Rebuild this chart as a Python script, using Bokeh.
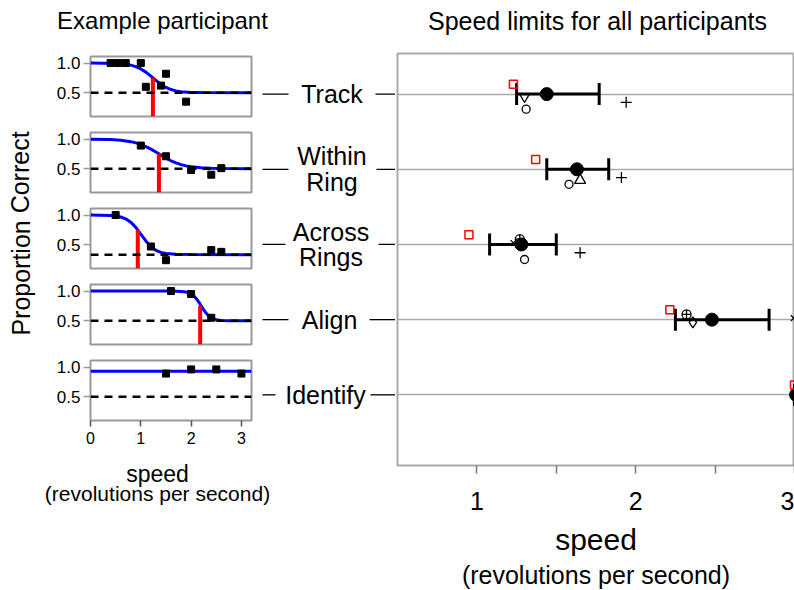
from bokeh.plotting import figure
from bokeh.layouts import row, column
from bokeh.models import (Range1d, FixedTicker, Span, Title, Whisker, TeeHead,
                          ColumnDataSource, Grid, PrintfTickFormatter)
from bokeh.embed import file_html
from bokeh.resources import INLINE
from bokeh.core.properties import value

FONT = "Liberation Sans"

# ---------------- data ----------------
conditions = ["Track", "Within Ring", "Across Rings", "Align", "Identify"]
condition_labels = ["Track", "Within\nRing", "Across\nRings", "Align", "Identify"]
rows = [1, 2, 3, 4, 5]

# example participant: measured proportion correct per speed
trial_speed = [
    [0.4, 0.55, 0.7, 1.0, 1.1, 1.4, 1.5, 1.9],
    [1.0, 1.5, 2.0, 2.4, 2.6],
    [0.5, 1.2, 1.5, 2.4, 2.6],
    [1.6, 2.0, 2.4],
    [1.5, 2.0, 2.5, 3.0],
]
trial_correct = [
    [1.0, 1.0, 1.0, 1.0, 0.6, 0.62, 0.82, 0.35],
    [0.89, 0.71, 0.48, 0.40, 0.51],
    [1.0, 0.47, 0.24, 0.41, 0.38],
    [1.0, 0.95, 0.55],
    [0.89, 0.96, 0.96, 0.89],
]
# fitted psychometric curves
fit_speed = [
    [0, 0.5, 0.7, 0.8, 0.9, 1.0, 1.1, 1.2, 1.3, 1.4, 1.5, 1.6, 1.7, 1.8, 2.0, 2.2, 3.2],
    [0, 0.4, 0.6, 0.8, 0.9, 1.0, 1.1, 1.2, 1.3, 1.4, 1.5, 1.6, 1.7, 1.8, 1.9, 2.0, 2.2, 2.4, 2.7, 3.2],
    [0, 0.4, 0.6, 0.7, 0.8, 0.9, 1.0, 1.1, 1.2, 1.3, 1.4, 1.5, 1.7, 2.0, 3.2],
    [0, 1.6, 1.8, 1.9, 2.0, 2.05, 2.1, 2.15, 2.2, 2.25, 2.3, 2.35, 2.4, 2.5, 2.6, 2.8, 3.2],
    [0, 3.2],
]
fit_correct = [
    [1.0, 0.994, 0.98, 0.965, 0.94, 0.90, 0.847, 0.78, 0.707, 0.64, 0.589, 0.554, 0.531, 0.518, 0.506, 0.502, 0.5],
    [0.998, 0.991, 0.98, 0.956, 0.936, 0.91, 0.873, 0.83, 0.781, 0.729, 0.679, 0.634, 0.598, 0.569, 0.548, 0.532, 0.515, 0.507, 0.502, 0.5],
    [1.0, 0.992, 0.967, 0.936, 0.88, 0.793, 0.68, 0.563, 0.469, 0.407, 0.371, 0.352, 0.338, 0.334, 0.333],
    [1.0, 0.999, 0.994, 0.982, 0.95, 0.92, 0.875, 0.817, 0.75, 0.683, 0.625, 0.581, 0.55, 0.518, 0.506, 0.501, 0.5],
    [0.93, 0.93],
]
chance = [0.5, 0.5, 0.333, 0.5, 0.5]
threshold_speed = [1.24, 1.36, 0.94, 2.18, None]
threshold_level = 0.75

# all participants: speed limits
mean_speed = [1.44, 1.63, 1.28, 2.48, 3.01]
ci_low = [1.25, 1.44, 1.08, 2.25, 3.0]
ci_high = [1.77, 1.83, 1.50, 2.84, 3.4]
example_speed = [1.23, 1.37, 0.95, 2.215, 3.0]

participant_markers = ["circle", "cross", "inverted_triangle", "triangle", "x", "circle_cross", "diamond"]
participant_speed = [
    [1.31, 1.58, 1.30, None, None],
    [1.94, 1.91, 1.65, None, None],
    [1.30, None, None, None, None],
    [None, 1.65, None, None, None],
    [None, None, 1.23, 2.995, None],
    [None, None, 1.27, 2.32, None],
    [None, None, None, 2.36, None],
]

left_title = "Example participant"
right_title = "Speed limits for all participants"
y_title = "Proportion Correct"
x_title = "speed"
x_subtitle = "(revolutions per second)"

# ---------------- styling / placement ----------------
marker_row_offset = {"circle": 0.2, "cross": 0.11, "inverted_triangle": 0.035, "triangle": 0.145,
                     "x": -0.02, "circle_cross": -0.07, "diamond": 0.035}
marker_size = {"circle": 8, "cross": 11, "inverted_triangle": 10, "triangle": 11,
               "x": 8, "circle_cross": 9, "diamond": 11}
example_offset = -0.13
label_center_px = [331.5, 331.5, 330.5, 329, 325]
GRAY = "#999999"


def txt(obj, size):
    obj.text_font = FONT
    obj.text_font_size = size
    obj.text_font_style = "normal"
    obj.text_color = "black"


def blank(width, height, xr, yr):
    f = figure(width=width, height=height, x_range=xr, y_range=yr,
               output_backend="svg", toolbar_location=None,
               x_axis_location=None, y_axis_location=None,
               min_border_left=0, min_border_right=0, min_border_top=0, min_border_bottom=0)
    f.grid.visible = False
    f.outline_line_color = None
    return f


# ---------------- header with both titles ----------------
header = blank(794, 51, Range1d(0, 794), Range1d(51, 0))
header.text(x=[162, 597], y=[20, 20], text=[left_title, right_title], text_align="center",
            text_baseline="middle", text_font=value(FONT), text_font_size=["24px", "25px"],
            text_color="black")

# ---------------- y label / footer of the left part ----------------
ylab = blank(38, 407, Range1d(0, 38), Range1d(458, 51))
ylab.text(x=[20], y=[233], text=[y_title], angle=1.5708, text_align="center",
          text_baseline="middle", text_font=value(FONT), text_font_size="25px", text_color="black")

footer = blank(395, 132, Range1d(0, 395), Range1d(590, 458))
footer.text(x=[157, 157], y=[473, 493], text=[x_title, x_subtitle], text_align="center",
            text_baseline="middle", text_font=value(FONT), text_font_size=["23px", "21px"],
            text_color="black")

# ---------------- left: example participant ----------------
panels = []
n = len(conditions)
for i in range(n):
    top = 5 if i == 0 else 8
    bottom = 38 if i == n - 1 else 8
    p = figure(width=215, height=top + 60 + bottom,
               x_range=Range1d(0, 3.2), y_range=Range1d(0.1, 1.11),
               output_backend="svg", toolbar_location=None,
               x_axis_location="below" if i == n - 1 else None,
               min_border_left=52, min_border_right=2,
               min_border_top=top, min_border_bottom=bottom)
    p.grid.visible = False
    p.outline_line_color = GRAY
    p.outline_line_width = 2

    ya = p.yaxis[0]
    ya.ticker = FixedTicker(ticks=[0.5, 1.0], minor_ticks=[])
    ya.formatter = PrintfTickFormatter(format="%.1f")
    ya.major_tick_out = 7
    ya.major_tick_in = 0
    ya.major_tick_line_color = GRAY
    ya.major_tick_line_width = 1.5
    ya.axis_line_color = None
    ya.major_label_standoff = 3
    ya.major_label_text_font = FONT
    ya.major_label_text_font_size = "17px"
    ya.major_label_text_color = "black"

    if i == n - 1:
        xa = p.xaxis[0]
        xa.ticker = FixedTicker(ticks=[0, 1, 2, 3], minor_ticks=[])
        xa.major_tick_out = 6
        xa.major_tick_in = 0
        xa.major_tick_line_color = "#555555"
        xa.major_tick_line_width = 1.5
        xa.axis_line_color = None
        xa.major_label_standoff = 5
        xa.major_label_text_font = FONT
        xa.major_label_text_font_size = "16px"
        xa.major_label_text_color = "black"

    p.add_layout(Span(location=chance[i], dimension="width", line_color="black",
                      line_width=2.5, line_dash="8 6"))
    p.line(fit_speed[i], fit_correct[i], line_color="#0000ff", line_width=3)
    if threshold_speed[i] is not None:
        p.segment(x0=[threshold_speed[i]], y0=[p.y_range.start],
                  x1=[threshold_speed[i]], y1=[threshold_level],
                  line_color="#ff0000", line_width=4)
    p.scatter(trial_speed[i], trial_correct[i], marker="square", size=7,
              fill_color="black", line_color="black")
    panels.append(p)

# ---------------- middle: condition labels ----------------
mid = blank(142, 407, Range1d(253, 395), Range1d(5.847, 0.4334))
mid.text(x=label_center_px, y=rows, text=condition_labels, text_align="center",
         text_baseline="middle", text_font=value(FONT), text_font_size="25px",
         text_line_height=0.92, text_color="black")
mid.segment(x0=[262] * n, y0=rows, x1=[288, 288, 285, 288, 275], y1=rows,
            line_color="black", line_width=1.3)
mid.segment(x0=[375, 376, 378, 369, 370], y0=rows, x1=[395] * n, y1=rows,
            line_color="black", line_width=1.3)

# ---------------- right: all participants ----------------
right = figure(width=399, height=539, x_range=Range1d(0.5, 3.0), y_range=Range1d(5.94, 0.46),
               output_backend="svg", toolbar_location=None, y_axis_location=None,
               min_border_left=2, min_border_right=0, min_border_top=2, min_border_bottom=125)
right.grid.visible = False
right.outline_line_color = "#aaaaaa"
right.outline_line_width = 2
right.add_layout(Grid(dimension=1, ticker=FixedTicker(ticks=rows),
                      grid_line_color="#aaaaaa", grid_line_width=1.5))

xa = right.xaxis[0]
xa.ticker = FixedTicker(ticks=[1, 2, 3], minor_ticks=[1.5, 2.5])
xa.major_tick_out = 8
xa.major_tick_in = 0
xa.minor_tick_out = 8
xa.minor_tick_in = 0
xa.major_tick_line_color = "#777777"
xa.minor_tick_line_color = "#777777"
xa.major_tick_line_width = 1.5
xa.minor_tick_line_width = 1.5
xa.axis_line_color = None
xa.major_label_standoff = 18
xa.major_label_text_font = FONT
xa.major_label_text_font_size = "25px"
xa.major_label_text_color = "black"
xa.axis_label = x_title
xa.axis_label_text_font = FONT
xa.axis_label_text_font_size = "30px"
xa.axis_label_text_font_style = "normal"
xa.axis_label_text_color = "black"
xa.axis_label_standoff = 10
sub = Title(text=x_subtitle, align="center", standoff=0)
txt(sub, "25px")
right.add_layout(sub, "below")

ci_src = ColumnDataSource(dict(row=rows, lo=ci_low, hi=ci_high))
right.add_layout(Whisker(source=ci_src, base="row", lower="lo", upper="hi", dimension="width",
                         line_color="black", line_width=3,
                         lower_head=TeeHead(size=22, line_color="black", line_width=3),
                         upper_head=TeeHead(size=22, line_color="black", line_width=3)))

for mk, speeds in zip(participant_markers, participant_speed):
    xs = [s for s in speeds if s is not None]
    ys = [r + marker_row_offset[mk] for s, r in zip(speeds, rows) if s is not None]
    right.scatter(xs, ys, marker=mk, size=marker_size[mk], fill_color=None,
                  line_color="black", line_width=1.3)

right.scatter(mean_speed, rows, marker="circle", size=13, fill_color="black", line_color="black")
right.scatter(example_speed, [r + example_offset for r in rows], marker="square", size=8,
              fill_color=None, line_color="#ff0000", line_width=1.5)

left_part = column(row(ylab, column(*panels), mid), footer)
layout = column(header, row(left_part, right))

open("out.html", "w").write(file_html(layout, INLINE))
